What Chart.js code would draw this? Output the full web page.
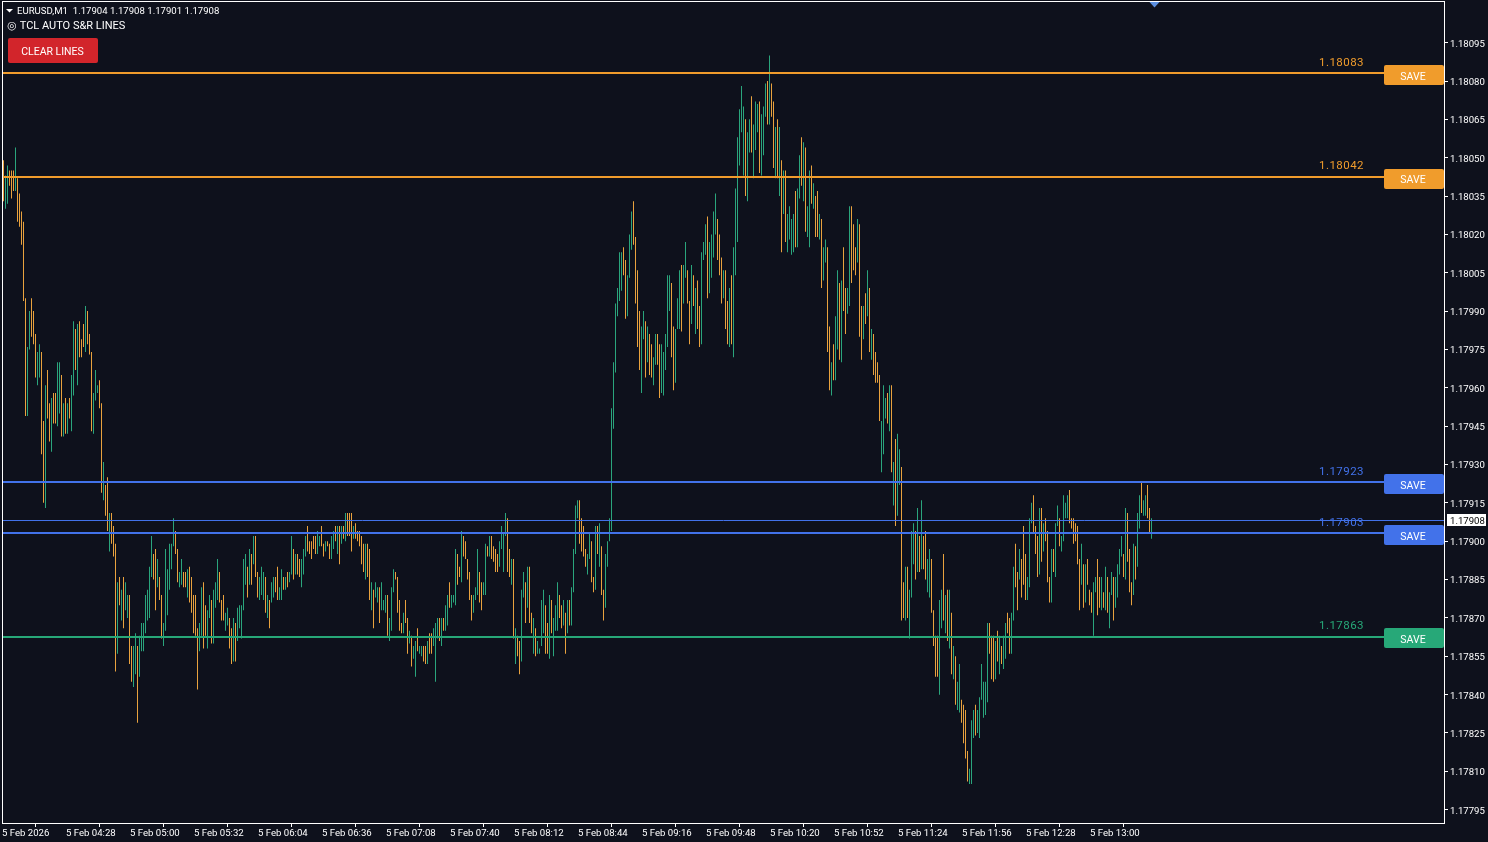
<!DOCTYPE html>
<html>
<head>
<meta charset="utf-8">
<style>html,body{margin:0;padding:0;background:#0e111c;overflow:hidden}canvas{display:block}</style>
<script src="https://cdn.jsdelivr.net/npm/chart.js@4"></script>
</head>
<body>
<canvas id="c" width="1488" height="842"></canvas>
<script>
// Prices in points (price x 100000), one row per 10 one-minute bars.
const highs = [
118049,118043,118047,118045,118045,118045,118054,118042,118036,118029,
118025,117995,117976,117990,117995,117990,117981,117974,117977,117974,
117947,117961,117967,117954,117956,117958,117958,117970,117970,117965,
117954,117956,117954,117956,117965,117986,117983,117985,117986,117979,
117985,117992,117990,117981,117974,117958,117967,117961,117963,117954,
117931,117922,117925,117911,117911,117906,117899,117884,117886,117881,
117886,117884,117879,117879,117859,117859,117864,117859,117863,117868,
117868,117879,117881,117890,117902,117895,117897,117893,117886,117879,
117868,117897,117889,117899,117899,117909,117904,117897,117888,117893,
117888,117888,117889,117890,117886,117879,117879,117866,117868,117882,
117884,117875,117873,117879,117877,117881,117884,117893,117888,117877,
117879,117872,117874,117870,117866,117870,117868,117874,117875,117875,
117893,117895,117890,117897,117895,117902,117902,117888,117886,117890,
117888,117886,117879,117877,117884,117886,117886,117890,117882,117889,
117886,117886,117888,117888,117902,117897,117895,117895,117893,117893,
117897,117902,117906,117900,117900,117902,117902,117904,117902,117906,
117899,117900,117900,117899,117902,117904,117906,117906,117906,117906,
117906,117911,117911,117911,117911,117906,117907,117904,117904,117902,
117899,117899,117899,117897,117884,117881,117884,117882,117882,117884,
117877,117879,117879,117870,117882,117889,117888,117886,117877,117868,
117872,117877,117870,117865,117863,117859,117861,117866,117859,117859,
117859,117859,117861,117864,117864,117866,117868,117870,117870,117870,
117870,117875,117879,117884,117879,117879,117897,117895,117890,117904,
117902,117900,117893,117888,117879,117879,117882,117897,117888,117884,
117884,117899,117898,117902,117902,117898,117897,117895,117900,117906,
117903,117911,117909,117897,117893,117893,117866,117863,117861,117881,
117888,117884,117890,117890,117872,117870,117866,117861,117858,117877,
117881,117875,117868,117879,117877,117870,117875,117884,117879,117875,
117877,117872,117877,117877,117882,117897,117914,117916,117916,117909,
117906,117897,117895,117903,117900,117886,117906,117906,117907,117898,
117881,117895,117900,117909,117952,117970,117993,117999,118013,118013,
118015,118010,118004,118020,118029,118033,118019,118006,117990,117984,
117990,117986,117984,117981,117977,117972,117981,117981,117977,117977,
117974,117981,118004,118004,118001,117984,117983,117995,118006,118008,
118008,118017,118006,117994,118008,118004,117999,118002,117992,118013,
118017,118024,118027,118017,118020,118029,118036,118026,118020,118011,
118006,118006,117994,117999,118004,118015,118038,118058,118069,118078,
118070,118065,118060,118065,118074,118063,118072,118071,118072,118067,
118070,118079,118080,118090,118079,118072,118062,118065,118062,118049,
118045,118045,118028,118031,118026,118028,118037,118038,118051,118058,
118056,118054,118031,118045,118047,118040,118035,118037,118028,118026,
118015,118018,118015,117984,117970,117977,117988,118006,118001,118002,
118015,117999,117999,118031,118031,118024,118015,118026,118024,117992,
117992,117997,118006,117999,117983,117981,117974,117970,117965,117947,
117961,117956,117958,117961,117961,117931,117940,117942,117936,117929,
117884,117890,117890,117881,117904,117907,117904,117913,117902,117916,
117902,117904,117893,117897,117893,117873,117863,117863,117877,117881,
117895,117879,117881,117881,117872,117859,117855,117845,117852,117838,
117836,117834,117818,117811,117830,117834,117836,117834,117839,117852,
117845,117845,117868,117868,117863,117863,117861,117865,117863,117859,
117863,117868,117872,117870,117872,117890,117899,117888,117897,117893,
117906,117895,117886,117909,117915,117918,117906,117902,117913,117913,
117907,117909,117904,117886,117897,117897,117907,117914,117909,117902,
117918,117915,117918,117920,117909,117909,117907,117906,117893,117899,
117891,117891,117893,117881,117880,117884,117886,117893,117886,117886,
117880,117890,117886,117880,117888,117886,117886,117891,117897,117902,
117895,117913,117911,117897,117884,117899,117898,117911,117918,117923,
117916,117918,117922,117913,117909];
const lows = [
118033,118030,118032,118039,118034,118037,118037,118025,118023,118016,
117994,117949,117949,117975,117980,117977,117964,117961,117964,117934,
117915,117913,117948,117939,117935,117946,117946,117945,117950,117941,
117941,117942,117942,117948,117943,117957,117967,117961,117972,117972,
117976,117974,117977,117973,117943,117942,117955,117958,117952,117919,
117916,117910,117904,117896,117899,117894,117849,117856,117875,117869,
117866,117873,117870,117852,117845,117843,117848,117829,117847,117857,
117857,117864,117869,117870,117886,117885,117873,117882,117877,117862,
117859,117865,117871,117881,117889,117898,117895,117884,117882,117883,
117882,117882,117878,117876,117872,117864,117863,117842,117857,117863,
117858,117863,117858,117870,117860,117860,117874,117877,117876,117869,
117869,117865,117867,117858,117852,117853,117853,117861,117866,117862,
117873,117883,117878,117883,117883,117891,117886,117878,117877,117879,
117877,117872,117870,117866,117876,117878,117880,117877,117877,117877,
117881,117881,117882,117884,117887,117885,117887,117887,117886,117882,
117887,117894,117896,117895,117893,117897,117895,117895,117898,117898,
117894,117896,117898,117893,117893,117897,117900,117895,117891,117899,
117901,117900,117902,117902,117896,117901,117901,117900,117898,117891,
117888,117885,117886,117877,117873,117866,117878,117876,117868,117873,
117873,117872,117863,117861,117865,117880,117885,117872,117865,117864,
117864,117868,117856,117860,117851,117854,117847,117857,117856,117855,
117853,117852,117852,117856,117856,117859,117845,117862,117861,117859,
117865,117865,117867,117874,117874,117876,117875,117883,117886,117884,
117894,117893,117885,117877,117869,117872,117877,117879,117876,117873,
117879,117879,117894,117894,117893,117892,117888,117888,117890,117897,
117888,117902,117888,117886,117883,117862,117852,117855,117848,117853,
117878,117868,117874,117868,117864,117856,117855,117856,117856,117859,
117864,117856,117856,117854,117864,117855,117865,117865,117870,117866,
117867,117856,117864,117867,117867,117880,117895,117909,117899,117896,
117894,117890,117887,117893,117884,117880,117881,117895,117890,117879,
117869,117874,117890,117900,117904,117944,117966,117988,117994,117998,
118004,117987,117988,118003,118014,118016,117993,117976,117967,117958,
117979,117964,117970,117965,117964,117961,117969,117969,117956,117958,
117957,117967,117976,117990,117972,117959,117962,117983,117983,117982,
117993,118003,117993,117977,117985,117992,117981,117983,117976,117977,
118010,118012,117995,117997,118003,118011,118020,118010,118004,117993,
117995,117983,117977,117976,117977,117972,118004,118017,118047,118060,
118043,118035,118033,118052,118052,118042,118053,118060,118044,118043,
118051,118066,118063,118063,118066,118046,118042,118042,118035,118013,
118028,118017,118013,118018,118012,118013,118015,118015,118034,118039,
118033,118021,118019,118015,118032,118030,118019,118019,118018,117999,
118002,118009,117974,117959,117957,117963,117963,117975,117971,117970,
117990,117981,117989,117992,118001,118006,118004,118009,117980,117971,
117979,117985,117988,117974,117971,117965,117962,117962,117947,117927,
117934,117948,117946,117943,117927,117914,117906,117910,117922,117869,
117870,117869,117870,117862,117878,117891,117885,117888,117888,117889,
117889,117885,117880,117878,117872,117859,117847,117847,117840,117866,
117869,117864,117861,117858,117848,117846,117836,117834,117833,117829,
117821,117815,117806,117805,117805,117823,117824,117825,117823,117838,
117831,117832,117837,117856,117846,117845,117846,117853,117848,117852,
117850,117854,117864,117856,117856,117869,117882,117873,117885,117878,
117883,117877,117877,117882,117907,117903,117895,117886,117887,117892,
117896,117900,117884,117876,117876,117888,117886,117906,117898,117896,
117900,117909,117909,117907,117905,117899,117900,117891,117873,117883,
117874,117876,117883,117875,117872,117863,117880,117871,117874,117873,
117874,117873,117872,117866,117879,117869,117874,117878,117887,117894,
117886,117885,117892,117880,117875,117879,117885,117890,117905,117911,
117910,117910,117909,117903,117901];
// G = green bar, O = orange bar
const directions = [
"OGGOOOGOOO","OOGGOOOGGO","OGOOGOOGGO","GOGOGGOGOO","OGOOOGGGOO",
"GOOGOOOGOG","OGGOOGGOGG","GGGGGOOGOO","GGGGGGOOGG","OOGOOOOOGG",
"OOGGOGGGOO","OGGOOGOGGG","GGOGOGOOGG","GOGOGGOOGG","OGOGGOGOOG",
"GGOOOOOGGO","OGOOGGOGOG","OGOOOGOOOO","OGOOGOGGOG","GGOGGGOOOO",
"GOOGOGGOGG","OOGOOGGGOG","OGGOGGGOOG","OOOOOGGGOO","GGOGOOOOGG",
"GGOOGOGOOG","GOGOOGOGGG","GOOGOGGGOO","GOGOGGGGOO","OOGGOOGOGO",
"OGGGGGGGGG","OOGGGOOOOG","GOGOOGGOOG","GGGGOOGGGO","GGOOGOGOOG",
"GGOGGGGOOO","GOOGOGGGGG","GOGGOGGGOG","GGOGOOGOGO","GOGGGGOGGO",
"GOGGOGOOGO","GGOOGOGGOG","OOGGOOOGOO","GOGOGOOOOG","GGOGOGOGGO",
"OGOGGGOGOG","OOGGOOOOGG","OGOGOGOGGO","OOOGGGOGGG","GGGOOOGOGO",
"GGOOGGOOGO","OOGGGOOOGO","GOOOGOGGOG","GGGOOOOOOG","OGOOOGGOOG",
"OGOGGOGGGG","OGOOOGOGGO","GGOOG"].join("");
// Level prices sit a fraction off the rounded labels, as in the picture.
const levels = [118083.13, 118042.45, 117923.16, 117903.22, 117862.54];
const levelLabels = ["1.18083", "1.18042", "1.17923", "1.17903", "1.17863"];
const levelColors = ["#f09c2c", "#f09c2c", "#4272ea", "#4272ea", "#27a878"];
const labelNudge = [0, -1, 0, 0, -1];
const bid = 117908.1;
const bidLabel = "1.17908";
const yTicks = [117795,117810,117825,117840,117855,117870,117885,117900,117915,117930,117945,117960,117975,117990,118005,118020,118035,118050,118065,118080,118095];
const xTickLabels = ["5 Feb 2026","5 Feb 04:28","5 Feb 05:00","5 Feb 05:32","5 Feb 06:04","5 Feb 06:36","5 Feb 07:08","5 Feb 07:40","5 Feb 08:12","5 Feb 08:44","5 Feb 09:16","5 Feb 09:48","5 Feb 10:20","5 Feb 10:52","5 Feb 11:24","5 Feb 11:56","5 Feb 12:28","5 Feb 13:00"];
const infoLine = "EURUSD,M1  1.17904 1.17908 1.17901 1.17908";
const indicatorName = "◎ TCL AUTO S&R LINES";

const BG = "#0e111c", UP = "#2aa57c", DOWN = "#e9a23e";
const XMIN = -0.75, XMAX = 720.75, YMIN = 117789.4, YMAX = 118110.9;
const FONT = "Roboto, sans-serif";

const overlay = {
  id: "overlay",
  beforeDraw(ch) {
    const c = ch.ctx;
    c.save(); c.fillStyle = BG; c.fillRect(0, 0, ch.width, ch.height); c.restore();
  },
  afterDraw(ch) {
    const c = ch.ctx, y = ch.scales.y;
    c.save();
    c.strokeStyle = "#ffffff"; c.lineWidth = 1;
    c.strokeRect(2.5, 1.5, 1442, 822);
    levels.forEach((v, k) => {
      const py = Math.round(y.getPixelForValue(v));
      const n = labelNudge[k];
      c.font = "11.5px " + FONT; c.textAlign = "right"; c.textBaseline = "middle";
      c.letterSpacing = "0.45px";
      c.fillStyle = levelColors[k];
      c.fillText(levelLabels[k], 1364, py - 9.5 + n);
      c.letterSpacing = "0px";
      c.beginPath(); c.roundRect(1384, py - 8 + (k === 4 ? -1 : 0), 60, 20, 2); c.fill();
      c.font = "10.5px " + FONT; c.textAlign = "center"; c.fillStyle = "#ffffff";
      c.fillText("SAVE", 1413, py + 4.5 + n);
    });
    c.textAlign = "left"; c.textBaseline = "middle"; c.fillStyle = "#ffffff";
    c.font = "9.6px " + FONT;
    c.fillText(infoLine, 17, 12);
    c.font = "11px " + FONT;
    c.fillText(indicatorName, 7, 26);
    c.beginPath(); c.moveTo(6, 9); c.lineTo(13, 9); c.lineTo(9.5, 12.5); c.closePath(); c.fill();
    c.fillStyle = "#d2252b";
    c.beginPath(); c.roundRect(8, 38, 90, 25, 2); c.fill();
    c.fillStyle = "#ffffff"; c.font = "10.5px " + FONT; c.textAlign = "center";
    c.fillText("CLEAR LINES", 52.5, 52.5);
    c.fillStyle = "#5b8fe0";
    c.beginPath(); c.moveTo(1149.5, 2); c.lineTo(1159.5, 2); c.lineTo(1154.5, 7.5); c.closePath(); c.fill();
    const by = Math.floor(y.getPixelForValue(bid));
    c.fillStyle = "#ffffff"; c.fillRect(1447, by - 6, 39, 12);
    c.fillStyle = "#000000"; c.font = "9.6px " + FONT; c.textAlign = "left";
    c.fillText(bidLabel, 1450, by + 1.5);
    c.restore();
  }
};

const barData = highs.map((h, i) => ({ x: i, y: [lows[i], h] }));
const barColors = highs.map((_, i) => directions[i] === "G" ? UP : DOWN);
const lineSets = levels.concat([bid]).map((v, k) => ({
  type: "line",
  data: [{ x: XMIN, y: v }, { x: XMAX, y: v }],
  borderColor: k < levels.length ? levelColors[k] : "#4272ea",
  borderWidth: k < levels.length ? 2 : 1,
  pointRadius: 0,
  order: 0
}));

new Chart(document.getElementById("c"), {
  type: "bar",
  data: {
    datasets: [{
      type: "bar",
      data: barData,
      backgroundColor: barColors,
      borderWidth: 0,
      maxBarThickness: 1,
      grouped: false,
      order: 1
    }].concat(lineSets)
  },
  options: {
    responsive: false,
    devicePixelRatio: 1,
    animation: false,
    events: [],
    layout: { padding: { left: 2, top: 2, right: 0, bottom: 0 } },
    plugins: { legend: { display: false }, tooltip: { enabled: false } },
    scales: {
      x: {
        type: "linear",
        min: XMIN, max: XMAX,
        offset: false,
        afterBuildTicks(s) { s.ticks = xTickLabels.map((_, k) => ({ value: k * 32 })); },
        afterFit(s) { s.height = 18; s.paddingLeft = 0; s.paddingRight = 0; },
        border: { display: false },
        grid: { drawOnChartArea: false, drawTicks: true, tickLength: 3, color: "#ffffff" },
        ticks: {
          autoSkip: false, maxRotation: 0, minRotation: 0, align: "start", padding: 1, labelOffset: -1.5,
          color: "#ffffff", font: { family: FONT, size: 9.6 },
          callback(v) { return xTickLabels[Math.round(v / 32)]; }
        }
      },
      y: {
        position: "right",
        min: YMIN, max: YMAX,
        afterBuildTicks(s) { s.ticks = yTicks.map(v => ({ value: v })); },
        afterFit(s) { s.width = 43; s.paddingTop = 0; s.paddingBottom = 0; },
        border: { display: false },
        grid: { drawOnChartArea: false, drawTicks: true, tickLength: 3, color: "#ffffff" },
        ticks: {
          padding: 2, labelOffset: 1.5, color: "#ffffff", font: { family: FONT, size: 9.6 },
          callback(v) { return (v / 100000).toFixed(5); }
        }
      }
    }
  },
  plugins: [overlay]
});
</script>
</body>
</html>
